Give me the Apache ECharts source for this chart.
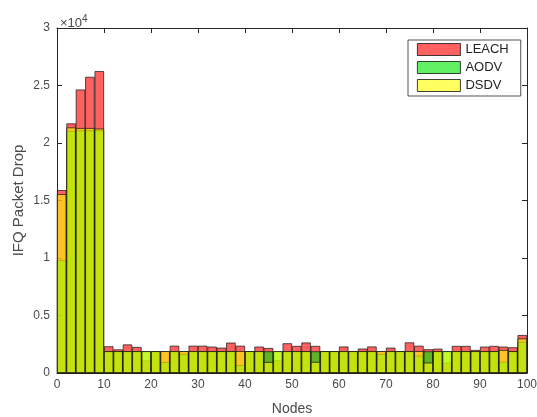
<!DOCTYPE html>
<html>
<head>
<meta charset="utf-8">
<script src="https://cdn.jsdelivr.net/npm/echarts@6/dist/echarts.min.js"></script>
<style>
  html, body { margin: 0; padding: 0; background: #fff; }
  #chart { width: 537px; height: 417px; }
</style>
</head>
<body>
<div id="chart"></div>
<script>
// Node positions (bar centres) and IFQ packet drops per protocol
const nodes = [1, 3, 5, 7, 9, 11, 13, 15, 17, 19, 21, 23, 25, 27, 29, 31, 33, 35, 37, 39,
               41, 43, 45, 47, 49, 51, 53, 55, 57, 59, 61, 63, 65, 67, 69, 71, 73, 75, 77, 79,
               81, 83, 85, 87, 89, 91, 93, 95, 97, 99];

const leach = [15900, 21700, 24650, 25750, 26250, 2320, 2050, 2480, 2260, 1100,
               1900, 1900, 2370, 1900, 2370, 2370, 2290, 2200, 2640, 2370,
               1900, 2290, 2170, 1120, 2580, 2350, 2650, 2350, 1900, 1900,
               2300, 1900, 2120, 2300, 1900, 2200, 1900, 2660, 2370, 2060,
               2110, 900, 2350, 2350, 2000, 2290, 2350, 2290, 2230, 3300];

const aodv = [9800, 21050, 21100, 21100, 21100, 1880, 1880, 1880, 1880, 1880,
              1880, 950, 1880, 1650, 1880, 1880, 1880, 1880, 1880, 680,
              1880, 1880, 1880, 1880, 1880, 1880, 1880, 1880, 1880, 1880,
              1880, 1880, 1880, 1880, 1650, 1880, 1880, 1880, 1500, 1880,
              1880, 1880, 1880, 1880, 1880, 1880, 1880, 980, 1880, 2700];

const dsdv = [15550, 21350, 21300, 21300, 21250, 1900, 1900, 1900, 1900, 1900,
              1900, 1900, 1900, 1900, 1900, 1900, 1900, 1900, 1900, 1900,
              1900, 1900, 950, 1900, 1900, 1900, 1900, 960, 1900, 1900,
              1900, 1900, 1900, 1900, 1900, 1900, 1900, 1900, 1900, 900,
              1900, 1900, 1900, 1900, 1900, 1900, 1900, 2000, 1900, 3000];

const xTickLabels = ['0', '10', '20', '30', '40', '50', '60', '70', '80', '90', '100'];
const yTickLabels = ['0', '0.5', '1', '1.5', '2', '2.5', '3'];

const FONT = '"Liberation Sans", Arial, Helvetica, sans-serif';
const AX = '#262626';
const TXT = '#4a4a4a';

const grid = { left: 57, right: 10, top: 28, bottom: 44, outerBoundsMode: 'none' };
const chart = echarts.init(document.getElementById('chart'), null, { renderer: 'canvas' });
const plotW = chart.getWidth() - grid.left - grid.right;
const barPx = plotW * 2 / 100;   // each bar covers 2 node units

function pairs(vals) {
  return nodes.map((n, i) => [n, vals[i]]);
}

function barSeries(name, fill, vals) {
  return {
    name: name,
    type: 'bar',
    data: pairs(vals),
    barWidth: barPx,
    barGap: '-100%',
    itemStyle: { color: fill, borderColor: '#111', borderWidth: 0.7 },
    emphasis: { disabled: true },
    animation: false
  };
}

const tickCommon = { show: true, inside: true, length: 5, lineStyle: { color: AX, width: 1 } };
const lineCommon = { show: true, onZero: false, lineStyle: { color: AX, width: 1 } };

chart.setOption({
  backgroundColor: '#fff',
  animation: false,
  textStyle: { fontFamily: FONT },
  grid: grid,
  title: {
    left: 55, top: 9,
    text: '×10{s|4}',
    textStyle: {
      fontFamily: FONT, fontSize: 13, fontWeight: 'normal', color: TXT,
      rich: { s: { fontSize: 10, verticalAlign: 'top', padding: [0, 0, 8, 0], fontFamily: FONT, color: TXT } }
    }
  },
  legend: {
    left: 408, top: 40,
    orient: 'vertical',
    data: ['LEACH', 'AODV', 'DSDV'],
    icon: 'rect',
    itemWidth: 43, itemHeight: 12, itemGap: 5,
    padding: [3, 12, 4, 9],
    backgroundColor: '#fff',
    borderColor: AX, borderWidth: 0.8, borderRadius: 0,
    textStyle: { fontFamily: FONT, fontSize: 13, color: '#222' },
    itemStyle: { borderColor: '#111', borderWidth: 0.8 }
  },
  xAxis: [{
    type: 'value', min: 0, max: 100, interval: 10,
    name: 'Nodes', nameLocation: 'middle', nameGap: 29, nameMoveOverlap: false,
    nameTextStyle: { fontFamily: FONT, fontSize: 14, color: TXT },
    axisLine: lineCommon, axisTick: tickCommon, splitLine: { show: false },
    axisLabel: { fontFamily: FONT, fontSize: 12, color: TXT, margin: 6,
                 formatter: v => xTickLabels[Math.round(v / 10)] }
  }, {
    type: 'value', min: 0, max: 100, interval: 10, position: 'top',
    axisLine: lineCommon, axisTick: tickCommon, splitLine: { show: false },
    axisLabel: { show: false }
  }],
  yAxis: [{
    type: 'value', min: 0, max: 30000, interval: 5000,
    name: 'IFQ Packet Drop', nameLocation: 'middle', nameGap: 31, nameRotate: 90,
    nameMoveOverlap: false,
    nameTextStyle: { fontFamily: FONT, fontSize: 15, color: TXT },
    axisLine: lineCommon, axisTick: tickCommon, splitLine: { show: false },
    axisLabel: { fontFamily: FONT, fontSize: 12, color: TXT, margin: 7,
                 formatter: v => yTickLabels[Math.round(v / 5000)] }
  }, {
    type: 'value', min: 0, max: 30000, interval: 5000, position: 'right',
    axisLine: lineCommon, axisTick: tickCommon, splitLine: { show: false },
    axisLabel: { show: false }
  }],
  series: [
    barSeries('LEACH', 'rgba(255, 0, 0, 0.62)', leach),
    barSeries('AODV', 'rgba(0, 230, 0, 0.62)', aodv),
    barSeries('DSDV', 'rgba(255, 255, 0, 0.62)', dsdv)
  ]
});
</script>
</body>
</html>
